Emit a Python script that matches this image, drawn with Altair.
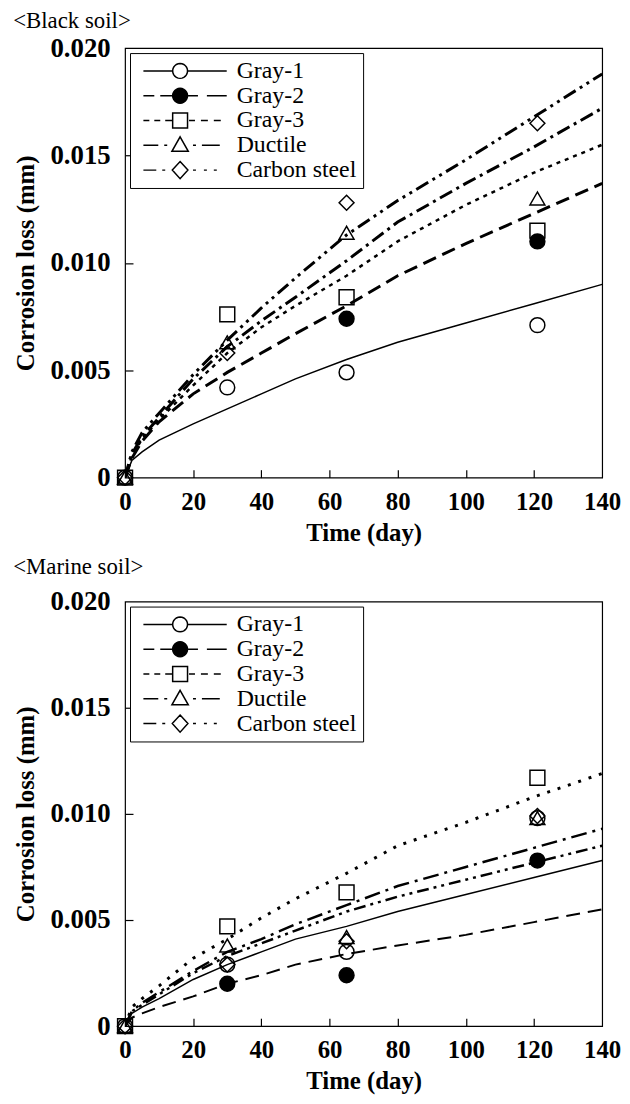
import math
import altair as alt
import pandas as pd

SERIES = ["Gray-1", "Gray-2", "Gray-3", "Ductile", "Carbon steel"]

# ---- fitted curves ----
curve_days = [0, 2, 5, 10, 20, 30, 40, 50, 65, 80, 100, 120, 140]

bk_gray1 = [0, 0.0008, 0.0012, 0.00175, 0.0025, 0.0032, 0.0039, 0.0046, 0.0055, 0.0063, 0.0072, 0.0081, 0.0090]
bk_gray2 = [0, 0.0009, 0.0017, 0.0026, 0.0039, 0.0049, 0.0058, 0.0067, 0.0080, 0.0094, 0.0109, 0.0123, 0.0137]
bk_gray3 = [0, 0.0010, 0.0018, 0.0027, 0.0043, 0.0058, 0.0070, 0.0080, 0.0094, 0.0110, 0.0127, 0.0142, 0.0155]
bk_ductile = [0, 0.0011, 0.0019, 0.0028, 0.0046, 0.0061, 0.0073, 0.0084, 0.0101, 0.0119, 0.0137, 0.0154, 0.0172]
bk_carbon = [0, 0.0012, 0.0021, 0.0030, 0.0048, 0.0064, 0.0079, 0.0093, 0.0113, 0.0129, 0.0148, 0.0168, 0.0188]

mr_gray1 = [0, 0.0006, 0.0009, 0.0013, 0.0022, 0.0029, 0.0035, 0.0041, 0.0047, 0.0054, 0.0062, 0.0070, 0.0078]
mr_gray2 = [0, 0.0004, 0.0006, 0.0009, 0.0014, 0.0020, 0.0024, 0.0029, 0.0034, 0.0038, 0.0043, 0.0049, 0.0055]
mr_gray3 = [0, 0.0009, 0.0013, 0.0019, 0.0032, 0.0041, 0.0051, 0.0060, 0.0072, 0.0085, 0.0096, 0.0108, 0.0119]
mr_ductile = [0, 0.0007, 0.0011, 0.0016, 0.0026, 0.0035, 0.0041, 0.0048, 0.0057, 0.0066, 0.0075, 0.0084, 0.0093]
mr_carbon = [0, 0.0007, 0.0010, 0.0015, 0.0025, 0.0033, 0.0039, 0.0045, 0.0054, 0.0061, 0.0069, 0.0077, 0.0085]

# ---- measured points ----
point_days = [0, 30, 65, 121]

bk_pt_gray1 = [0, 0.0042, 0.0049, 0.0071]
bk_pt_gray2 = [None, None, 0.0074, 0.0110]
bk_pt_gray3 = [0, 0.0076, 0.0084, 0.0115]
bk_pt_ductile = [0, 0.0063, 0.0114, 0.0130]
bk_pt_carbon = [0, 0.0058, 0.0128, 0.0165]

mr_pt_gray1 = [0, 0.0029, 0.0035, 0.0098]
mr_pt_gray2 = [None, 0.0020, 0.0024, 0.0078]
mr_pt_gray3 = [0, 0.0047, 0.0063, 0.0117]
mr_pt_ductile = [0, 0.0038, 0.0042, 0.0098]
mr_pt_carbon = [0, 0.0029, 0.0040, 0.0099]

x_tick_values = [20, 40, 60, 80, 100, 120]
y_tick_values = [0.005, 0.010, 0.015]
y_label_values = [0, 0.005, 0.010, 0.015, 0.020]
x_label_values = [0, 20, 40, 60, 80, 100, 120, 140]

W = 481
FONT = "Liberation Serif"


def curve_frame(curves):
    rows = []
    for s, vals in zip(SERIES, curves):
        for d, v in zip(curve_days, vals):
            rows.append({"series": s, "day": d, "loss": v})
    return pd.DataFrame(rows)


def point_frame(pts):
    rows = []
    for s, vals in zip(SERIES, pts):
        for d, v in zip(point_days, vals):
            if v is not None:
                rows.append({"series": s, "day": d, "loss": v})
    return pd.DataFrame(rows)


# ---- legend symbols: line + marker drawn as custom paths ----
U = 7.5  # px per symbol unit for symbol size 225


def seg(a, b):
    return f"M{a / U:.3f},0L{b / U:.3f},0"


def poly(pts):
    return "M" + "L".join(f"{x:.3f},{y:.3f}" for x, y in pts) + "Z"


circle_path = poly([(math.cos(2 * math.pi * i / 24), math.sin(2 * math.pi * i / 24)) for i in range(24)])
square_path = poly([(-1, -1), (1, -1), (1, 1), (-1, 1)])
triangle_path = poly([(0, -1.15), (1.1, 0.8), (-1.1, 0.8)])
diamond_path = poly([(0, -1.15), (1.05, 0), (0, 1.15), (-1.05, 0)])

legend_dashes = [
    [(-37, -7.5), (7.5, 47)],
    [(-37, -26), (-20, -8), (8, 18), (27, 47)],
    [(-37, -31), (-26, -20), (-15, -8), (9, 15), (21, 28), (34, 41)],
    [(-37, -22), (-16, -13), (13, 16), (22, 40)],
    [(-37, -24), (-18, -15), (13, 16), (24, 27), (34, 37)],
]
legend_markers = [circle_path, circle_path, square_path, triangle_path, diamond_path]
legend_paths = ["".join(seg(a, b) for a, b in dashes) + m for dashes, m in zip(legend_dashes, legend_markers)]

point_shapes = ["circle", "circle", "square", "triangle-up", "diamond"]
point_fills = ["transparent", "black", "transparent", "transparent", "transparent"]
legend_fills = ["white", "black", "white", "white", "white"]
legend_strokes = ["black"] * 5


def panel(title, title_offset, H, curves, pts, styles):
    cdf = curve_frame(curves)
    pdf = point_frame(pts)
    xs = alt.Scale(domain=[0, 140], nice=False, zero=False)
    ys = alt.Scale(domain=[0, 0.02], nice=False, zero=False)

    main_x = alt.Axis(values=x_label_values, title="Time (day)", ticks=False, tickSize=0,
                      domain=False, grid=False, labelPadding=12, titlePadding=6, labelFlush=False)
    main_y = alt.Axis(values=y_label_values, title="Corrosion loss (mm)", ticks=False, tickSize=0,
                      domain=False, grid=False, labelPadding=15, titlePadding=12, labelFontSize=27,
                      labelExpr="datum.value == 0 ? '0' : format(datum.value, '.3f')")

    layers = []
    for i, s in enumerate(SERIES):
        dash, width = styles[i]
        kw = {"strokeDash": dash} if dash else {}
        layers.append(
            alt.Chart(cdf).transform_filter(alt.datum.series == s)
            .mark_line(color="black", strokeWidth=width, clip=True, **kw)
            .encode(
                x=alt.X("day:Q", scale=xs, axis=main_x if i == 0 else None),
                y=alt.Y("loss:Q", scale=ys, axis=main_y if i == 0 else None),
            )
        )

    points = alt.Chart(pdf).mark_point(color="black", size=225, strokeWidth=1.5, opacity=1).encode(
        x=alt.X("day:Q", scale=xs, axis=None),
        y=alt.Y("loss:Q", scale=ys, axis=None),
        shape=alt.Shape("series:N", scale=alt.Scale(domain=SERIES, range=point_shapes), legend=None),
        fill=alt.Fill("series:N", scale=alt.Scale(domain=SERIES, range=point_fills), legend=None),
    )

    leg = alt.Legend(
        orient="top-left", offset=5, padding=6, strokeColor="black", fillColor="white",
        labelFont=FONT, labelFontSize=24, labelColor="black", labelOffset=45, symbolOffset=32.5,
        symbolSize=225, symbolStrokeWidth=1.5, symbolStrokeColor="black", rowPadding=1,
        title=None, labelLimit=400, cornerRadius=0, labelFontWeight="normal",
    )
    legend_layer = alt.Chart(pdf).transform_filter("false").mark_point(
        color="black", stroke="black", size=225, strokeWidth=1.5, opacity=1
    ).encode(
        shape=alt.Shape("series:N", scale=alt.Scale(domain=SERIES, range=legend_paths), legend=leg),
        fill=alt.Fill("series:N", scale=alt.Scale(domain=SERIES, range=legend_fills), legend=leg),
        stroke=alt.Stroke("series:N", scale=alt.Scale(domain=SERIES, range=legend_strokes), legend=leg),
    )

    tick_layer = alt.Chart(pdf).transform_filter("false").mark_point().encode(
        x=alt.X("day:Q", scale=xs, axis=alt.Axis(orient="top", offset=-H, values=x_tick_values,
                                                 labels=False, domain=False, grid=False, ticks=True,
                                                 tickSize=8, tickColor="black", tickWidth=1.2, title=None)),
        y=alt.Y("loss:Q", scale=ys, axis=alt.Axis(orient="right", offset=-W, values=y_tick_values,
                                                  labels=False, domain=False, grid=False, ticks=True,
                                                  tickSize=8, tickColor="black", tickWidth=1.2, title=None)),
    )

    return alt.layer(*layers, points, legend_layer, tick_layer).resolve_scale(
        shape="independent", fill="independent", stroke="independent"
    ).resolve_axis(x="independent", y="independent").properties(
        width=W, height=H,
        title=alt.TitleParams(title, anchor="start", frame="bounds", font=FONT, fontSize=23,
                              fontWeight="normal", color="black", offset=title_offset),
    )


black_styles = [(None, 1.5), ([14, 7], 3), ([4, 5], 2.5), ([14, 5, 3, 5], 3), ([14, 5, 3, 5, 3, 5], 3)]
marine_styles = [(None, 1.5), ([14, 8], 2), ([3, 8], 3), ([16, 6, 3, 6], 2.5), ([12, 5, 3, 5, 3, 5], 2.5)]

top = panel("<Black soil>", 1, 433,
            [bk_gray1, bk_gray2, bk_gray3, bk_ductile, bk_carbon],
            [bk_pt_gray1, bk_pt_gray2, bk_pt_gray3, bk_pt_ductile, bk_pt_carbon],
            black_styles)
bottom = panel("<Marine soil>", 9, 428,
               [mr_gray1, mr_gray2, mr_gray3, mr_ductile, mr_carbon],
               [mr_pt_gray1, mr_pt_gray2, mr_pt_gray3, mr_pt_ductile, mr_pt_carbon],
               marine_styles)

chart = alt.vconcat(top, bottom, spacing=9).properties(
    padding={"left": 4, "top": -3, "right": 0, "bottom": 0},
    background="white",
).configure_view(stroke="black", strokeWidth=1.2).configure_axis(
    labelFont=FONT, labelFontSize=25, labelFontWeight="bold", labelColor="black",
    titleFont=FONT, titleFontSize=25, titleFontWeight="bold", titleColor="black",
)

chart.save("out.html", embed_options={"renderer": "svg", "actions": False})
